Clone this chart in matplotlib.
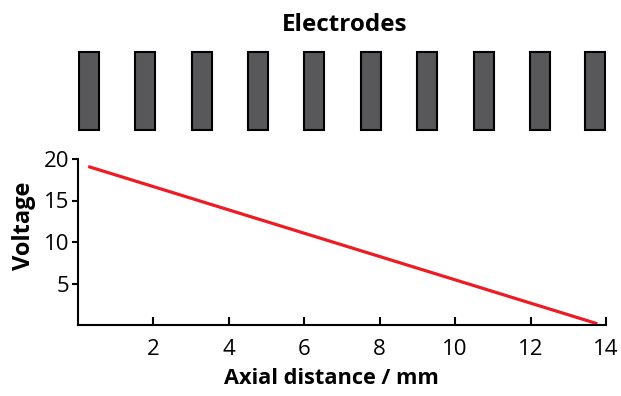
import numpy as np
import matplotlib
matplotlib.use("Agg")
import matplotlib.pyplot as plt
from matplotlib.patches import Rectangle

# data
electrode_left = [0.0, 1.5, 3.0, 4.5, 6.0, 7.5, 9.0, 10.5, 12.0, 13.47]
electrode_width = 0.53
dist = [0.27, 13.77]
volt = [19.1, 0.15]
xticks = [2, 4, 6, 8, 10, 12, 14]
yticks = [5, 10, 15, 20]

plt.rcParams['font.family'] = ['Open Sans', 'DejaVu Sans']

fig = plt.figure(figsize=(6.21, 3.96), dpi=100)

# electrodes strip
axe = fig.add_axes([78/621, 1-132/396, 528/621, 82/396])
for xl in electrode_left:
    axe.add_patch(Rectangle((xl, 0), electrode_width, 1, facecolor="#58585a",
                            edgecolor="black", linewidth=1.5))
axe.set_xlim(-0.02, 14.02)
axe.set_ylim(-0.02, 1.02)
axe.axis("off")
fig.text(345/621, 1-25/396, "Electrodes", ha="center", va="center",
         fontsize=17.5, fontweight="bold")

# voltage plot
ax = fig.add_axes([78/621, 1-325/396, 528/621, 166/396])
ax.plot(dist, volt, color="#ed1c24", linewidth=2.3, solid_capstyle="butt")
ax.set_xlim(0, 14)
ax.set_ylim(0, 20)
ax.set_xticks(xticks)
ax.set_yticks(yticks)
ax.spines["top"].set_visible(False)
ax.spines["right"].set_visible(False)
ax.spines["left"].set_linewidth(1.5)
ax.spines["bottom"].set_linewidth(1.5)
ax.tick_params(axis="x", direction="in", length=6, width=1.5, labelsize=16, pad=10)
ax.tick_params(axis="y", direction="out", length=4, width=1.5, labelsize=16, pad=2)
ax.set_xlabel("Axial distance / mm", fontsize=15.7, fontweight="bold")
ax.set_ylabel("Voltage", fontsize=17, fontweight="bold")
ax.xaxis.set_label_coords((331 - 78) / 528, -(378 - 325) / 166)
ax.yaxis.set_label_coords(-(78 - 24) / 528, (325 - 226) / 166)
ax.xaxis.label.set_va("center")
ax.yaxis.label.set_va("center")

fig.savefig("out.png", dpi=100)
